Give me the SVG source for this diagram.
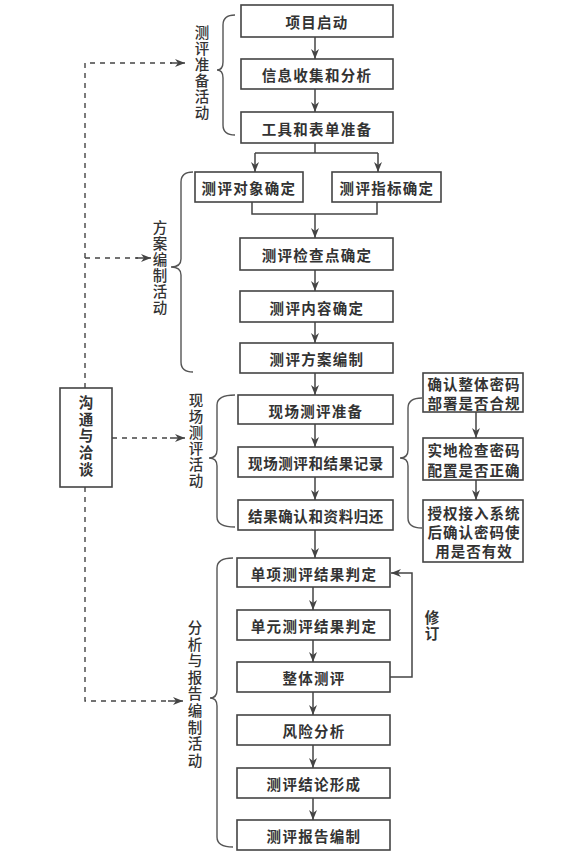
<svg xmlns="http://www.w3.org/2000/svg" width="571" height="866" viewBox="0 0 571 866">
<defs>
<marker id="ah" viewBox="0 0 10 8" refX="10" refY="4" markerWidth="10" markerHeight="8" markerUnits="userSpaceOnUse" orient="auto">
<path d="M0,0 L10,4 L0,8 L3,4 Z" fill="#444"/>
</marker>
<style>
.b{fill:#fff;stroke:#444;stroke-width:1.6}
.t{font-family:"Noto Sans CJK SC","Noto Sans",sans-serif;font-size:14.5px;font-weight:700;fill:#333;text-anchor:middle;dominant-baseline:central;letter-spacing:1.3px}
.v{font-family:"Noto Sans CJK SC","Noto Sans",sans-serif;font-size:14.5px;font-weight:500;fill:#333;text-anchor:middle;writing-mode:vertical-rl;letter-spacing:1.5px}
.c{fill:none;stroke:#444;stroke-width:1.5}
.a{fill:none;stroke:#444;stroke-width:1.5;marker-end:url(#ah)}
.d{fill:none;stroke:#444;stroke-width:1.4;stroke-dasharray:5,5}
.br{fill:none;stroke:#555;stroke-width:1.4}
</style>
</defs>
<rect width="571" height="866" fill="#fff"/>

<g id="connectors">
<path class="a" d="M315,37 V59"/>
<path class="a" d="M315,89 V112"/>
<path class="c" d="M315,143 V153 M255,153 H378"/>
<path class="a" d="M255,153 V172"/>
<path class="a" d="M378,153 V172"/>
<path class="c" d="M252,202 V214 H377 V202"/>
<path class="a" d="M315,214 V238"/>
<path class="a" d="M315,270 V291"/>
<path class="a" d="M315,322 V343"/>
<path class="a" d="M315,373 V395"/>
<path class="a" d="M315,424 V447"/>
<path class="a" d="M315,477 V500"/>
<path class="a" d="M315,530 V558"/>
<path class="a" d="M313,587 V610"/>
<path class="a" d="M313,640 V662"/>
<path class="a" d="M313,692 V715"/>
<path class="a" d="M313,745 V768"/>
<path class="a" d="M313,798 V820"/>
<path class="a" d="M390,677 H412 V573 H391"/>
<path class="a" d="M476,412 V438"/>
<path class="a" d="M476,480 V500"/>
<path class="d" d="M85,388 V63 H172"/>
<path class="a" d="M170,63 H185"/>
<path class="d" d="M85,258 H138"/>
<path class="a" d="M136,258 H151"/>
<path class="d" d="M112,438 H172"/>
<path class="a" d="M170,438 H185"/>
<path class="d" d="M85,487 V701 H170"/>
<path class="a" d="M168,701 H183"/>
<path class="br" d="M235,15 Q223,15 223,25 V62 Q223,70 217,70 Q223,70 223,78 V125 Q223,135 235,135"/>
<path class="br" d="M193,172 Q181,172 181,182 V259 Q181,267 171,267 Q181,267 181,275 V362 Q181,372 193,372"/>
<path class="br" d="M235,395 Q217,395 217,405 V450 Q217,458 209,458 Q217,458 217,466 V517 Q217,527 235,527"/>
<path class="br" d="M233,558 Q217,558 217,568 V690 Q217,698 210,698 Q217,698 217,706 V837 Q217,847 233,847"/>
<path class="br" d="M422,398 Q408,398 408,408 V450 Q408,458 400,458 Q408,458 408,466 V518 Q408,528 422,528"/>
</g>

<g id="n1"><rect class="b" x="241" y="5" width="152" height="32"/><text class="t" x="317" y="21">项目启动</text></g>
<g id="n2"><rect class="b" x="241" y="59" width="152" height="30"/><text class="t" x="317" y="74">信息收集和分析</text></g>
<g id="n3"><rect class="b" x="241" y="112" width="152" height="31"/><text class="t" x="317" y="128">工具和表单准备</text></g>
<g id="n4"><rect class="b" x="195" y="172" width="108" height="30"/><text class="t" x="249" y="187">测评对象确定</text></g>
<g id="n5"><rect class="b" x="332" y="172" width="109" height="30"/><text class="t" x="387" y="187">测评指标确定</text></g>
<g id="n6"><rect class="b" x="240" y="238" width="153" height="32"/><text class="t" x="317" y="254">测评检查点确定</text></g>
<g id="n7"><rect class="b" x="240" y="291" width="153" height="31"/><text class="t" x="317" y="307">测评内容确定</text></g>
<g id="n8"><rect class="b" x="240" y="343" width="153" height="30"/><text class="t" x="317" y="358">测评方案编制</text></g>
<g id="n9"><rect class="b" x="238" y="395" width="155" height="29"/><text class="t" x="316" y="410">现场测评准备</text></g>
<g id="n10"><rect class="b" x="238" y="447" width="155" height="30"/><text class="t" x="316" y="462" style="letter-spacing:0.6px">现场测评和结果记录</text></g>
<g id="n11"><rect class="b" x="238" y="500" width="155" height="30"/><text class="t" x="316" y="515" style="letter-spacing:0.6px">结果确认和资料归还</text></g>
<g id="n12"><rect class="b" x="237" y="558" width="153" height="29"/><text class="t" x="314" y="573">单项测评结果判定</text></g>
<g id="n13"><rect class="b" x="237" y="610" width="153" height="30"/><text class="t" x="314" y="625">单元测评结果判定</text></g>
<g id="n14"><rect class="b" x="237" y="662" width="153" height="30"/><text class="t" x="314" y="677">整体测评</text></g>
<g id="n15"><rect class="b" x="237" y="715" width="153" height="30"/><text class="t" x="314" y="730">风险分析</text></g>
<g id="n16"><rect class="b" x="237" y="768" width="153" height="30"/><text class="t" x="314" y="783">测评结论形成</text></g>
<g id="n17"><rect class="b" x="237" y="820" width="153" height="30"/><text class="t" x="314" y="835">测评报告编制</text></g>
<g id="r1"><rect class="b" x="423" y="373" width="100" height="39"/><text class="t" x="474" y="383" style="letter-spacing:1px">确认整体密码</text><text class="t" x="474" y="402" style="letter-spacing:1px">部署是否合规</text></g>
<g id="r2"><rect class="b" x="423" y="438" width="100" height="42"/><text class="t" x="474" y="449" style="letter-spacing:1px">实地检查密码</text><text class="t" x="474" y="469" style="letter-spacing:1px">配置是否正确</text></g>
<g id="r3"><rect class="b" x="423" y="500" width="100" height="62"/><text class="t" x="474" y="512" style="letter-spacing:1px">授权接入系统</text><text class="t" x="474" y="531" style="letter-spacing:1px">后确认密码使</text><text class="t" x="474" y="550" style="letter-spacing:1px">用是否有效</text></g>
<g id="comm"><rect class="b" x="60" y="388" width="52" height="99"/>
<text class="v" x="86" y="437" style="font-weight:700;letter-spacing:2.2px">沟通与洽谈</text></g>

<g id="labels">
<text class="v" x="202" y="73">测评准备活动</text>
<text class="v" x="160" y="268">方案编制活动</text>
<text class="v" x="196" y="441">现场测评活动</text>
<text class="v" x="195" y="695" style="letter-spacing:2.1px">分析与报告编制活动</text>
<text class="v" x="432" y="626" style="font-weight:700;letter-spacing:1px">修订</text>
</g>
</svg>
